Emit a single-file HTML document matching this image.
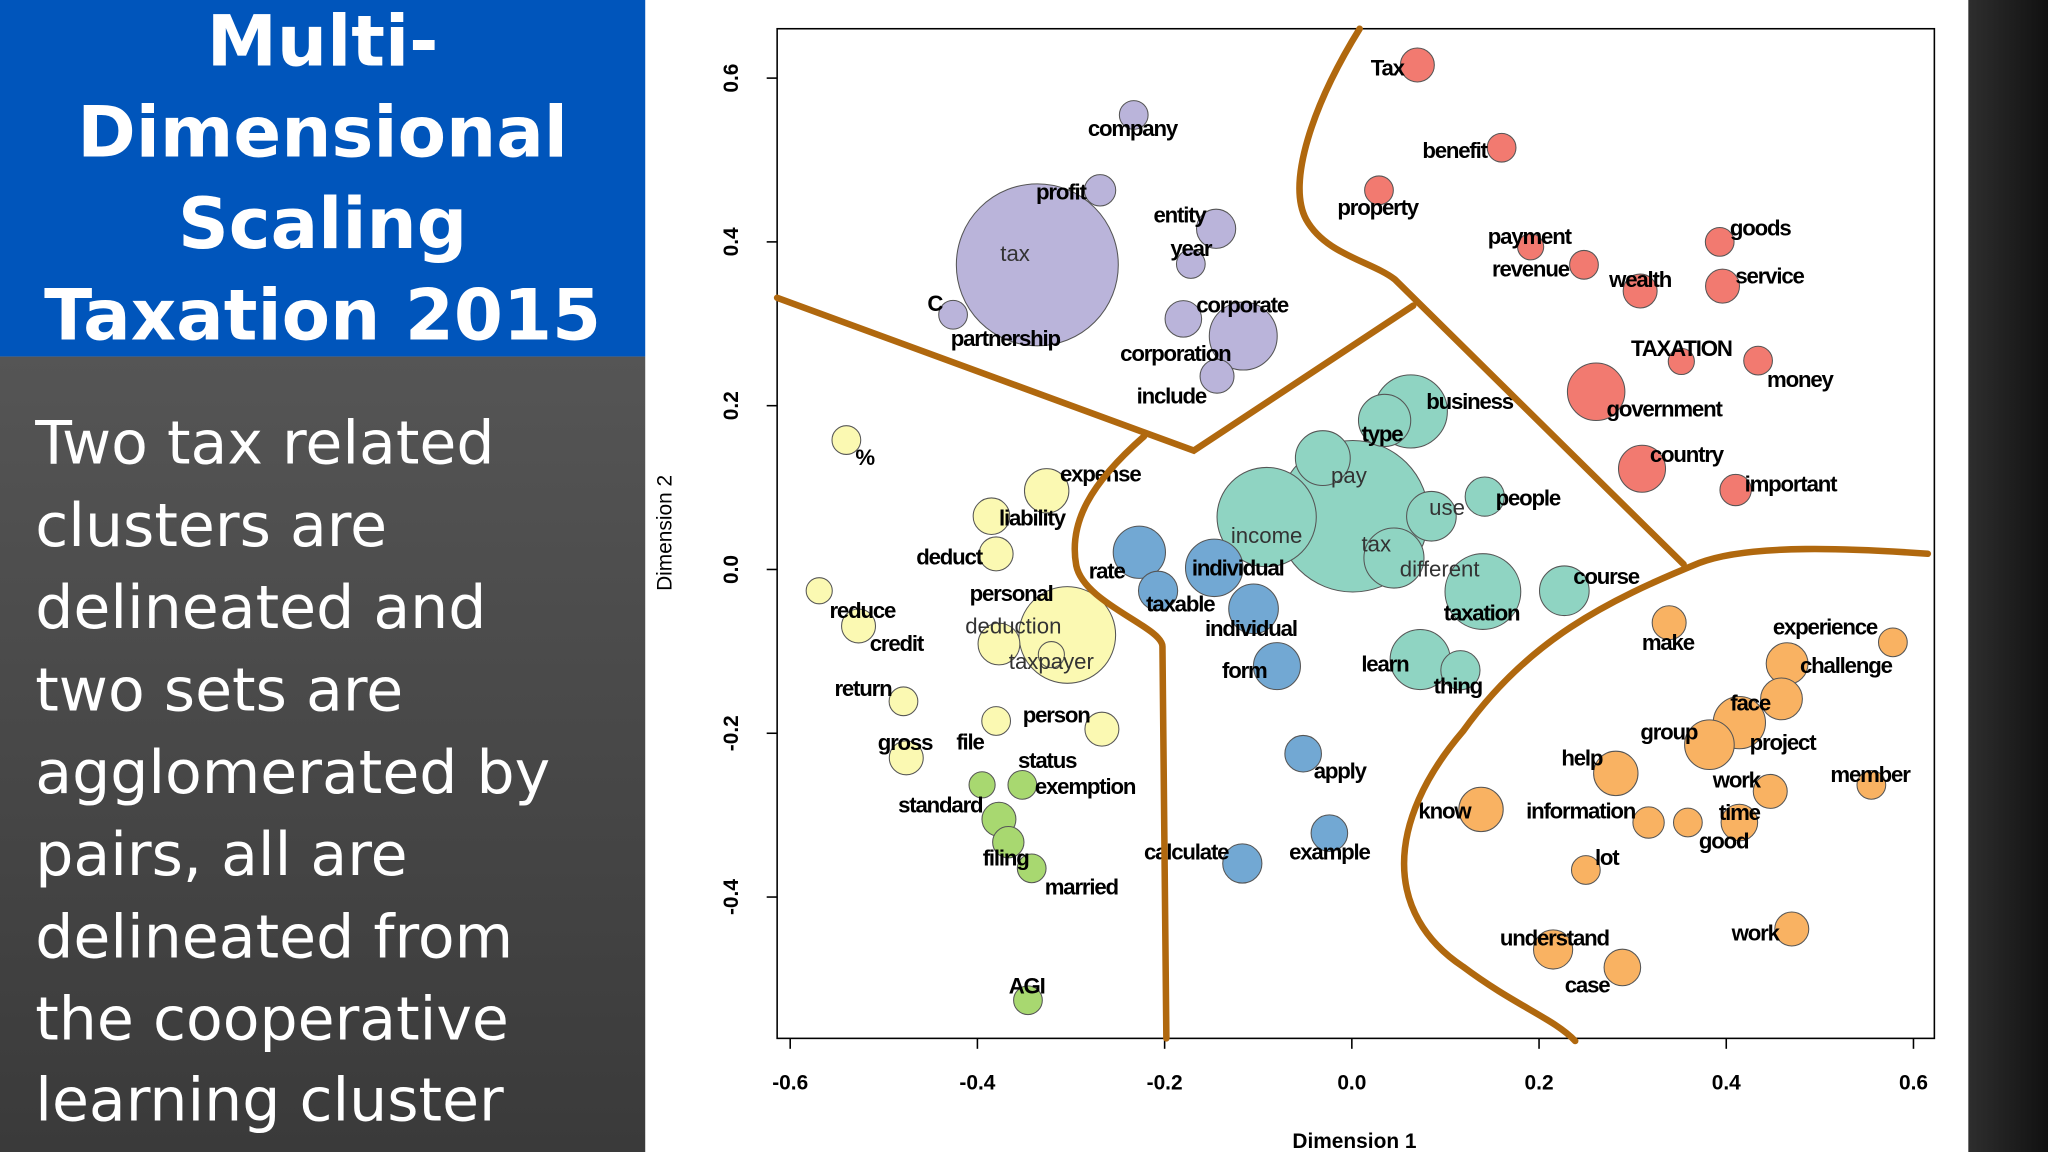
<!DOCTYPE html>
<html><head><meta charset="utf-8"><style>
html,body{margin:0;padding:0;background:#fff;overflow:hidden}
svg{display:block}
.lbl{font-family:"Liberation Sans",sans-serif;font-size:17px;font-weight:bold;letter-spacing:-0.9px;fill:#000}
.lbl.n{font-weight:normal;fill:#333;letter-spacing:0}
.tick{font-family:"Liberation Sans",sans-serif;font-size:16px;font-weight:bold;fill:#000}
.ttl{font-family:"DejaVu Sans","Liberation Sans",sans-serif;font-weight:bold;font-size:54px;fill:#fff}
.body{font-family:"DejaVu Sans","Liberation Sans",sans-serif;font-size:46px;fill:#fff}
</style></head><body>
<svg id="root" width="2048" height="1152" viewBox="0 0 1568 882" xmlns="http://www.w3.org/2000/svg">
<defs>
<linearGradient id="gp" x1="0" y1="0" x2="0" y2="1"><stop offset="0" stop-color="#555"/><stop offset="1" stop-color="#3a3a3a"/></linearGradient>
<linearGradient id="gr" x1="0" y1="0" x2="1" y2="0"><stop offset="0" stop-color="#2e2e2e"/><stop offset="1" stop-color="#111"/></linearGradient>
</defs>
<rect x="0" y="0" width="494" height="273" fill="#0055bb"/>
<rect x="0" y="273" width="494" height="609" fill="url(#gp)"/>
<rect x="1507" y="0" width="61" height="882" fill="url(#gr)"/>
<g text-anchor="middle">
<text class="ttl" x="247" y="50">Multi-</text>
<text class="ttl" x="247" y="120">Dimensional</text>
<text class="ttl" x="247" y="190">Scaling</text>
<text class="ttl" x="247" y="260">Taxation 2015</text>
</g>
<g>
<text class="body" x="27" y="355">Two tax related</text>
<text class="body" x="27" y="418">clusters are</text>
<text class="body" x="27" y="481">delineated and</text>
<text class="body" x="27" y="544">two sets are</text>
<text class="body" x="27" y="607">agglomerated by</text>
<text class="body" x="27" y="670">pairs, all are</text>
<text class="body" x="27" y="733">delineated from</text>
<text class="body" x="27" y="796">the cooperative</text>
<text class="body" x="27" y="858">learning cluster</text>
</g>
<rect x="595" y="22" width="886" height="773" fill="#fff" stroke="#000" stroke-width="1.2"/>
<g id="axes"></g>
<g id="points"></g>
<g id="curves" fill="none" stroke="#b0680e" stroke-width="5" stroke-linecap="round">
<path d="M595,228 L914,345 L1082,234"/>
<path d="M876,334 C835,370 818,400 824,433 C830,462 890,480 890,495 L893,795"/>
<path d="M1041,22 C1005,80 985,140 1000,168 C1015,195 1050,200 1068,214 L1289,432"/>
<path d="M1476,424 C1420,420 1340,416 1301,431 C1230,460 1170,490 1120,560 C1060,630 1060,700 1120,740 C1160,770 1190,780 1206,797"/>
</g>
<text class="tick" x="1037" y="879" text-anchor="middle">Dimension 1</text>
<text class="tick" transform="translate(514,408) rotate(-90)" text-anchor="middle" style="font-weight:normal">Dimension 2</text>
</svg>
<script>
const words=["company","profit","tax","entity","year","C","partnership","corporate","corporation","include",
"Tax","benefit","property","payment","revenue","wealth","goods","service","TAXATION","money","government","country","important",
"business","type","pay","income","tax","use","people","different","taxation","course","learn","thing",
"rate","taxable","individual","individual","form","apply","example","calculate",
"%","expense","liability","deduct","reduce","credit","personal","deduction","taxpayer","return","gross","file","person",
"standard","exemption","status","","filing","married","AGI",
"make","experience","challenge","face","group","project","help","work","member","know","information","","time","good","lot","understand","case","work"];
const dim1=[-0.233,-0.269,-0.336,-0.145,-0.172,-0.426,-0.426,-0.180,-0.116,-0.144,
0.070,0.160,0.029,0.191,0.248,0.308,0.393,0.396,0.352,0.434,0.261,0.310,0.410,
0.063,0.035,-0.031,-0.091,0.001,0.085,0.142,0.045,0.140,0.227,0.073,0.116,
-0.227,-0.207,-0.147,-0.105,-0.080,-0.052,-0.024,-0.117,
-0.540,-0.326,-0.385,-0.380,-0.569,-0.527,-0.304,-0.377,-0.321,-0.479,-0.476,-0.380,-0.267,
-0.395,-0.352,-0.352,-0.377,-0.367,-0.342,-0.346,
0.339,0.578,0.465,0.459,0.414,0.382,0.282,0.447,0.555,0.138,0.317,0.359,0.414,0.414,0.250,0.215,0.289,0.470];
const dim2=[0.555,0.463,0.372,0.416,0.373,0.311,0.311,0.306,0.285,0.236,
0.616,0.515,0.463,0.394,0.372,0.340,0.400,0.346,0.254,0.255,0.217,0.123,0.097,
0.193,0.182,0.136,0.064,0.065,0.065,0.089,0.014,-0.027,-0.026,-0.110,-0.123,
0.021,-0.026,0.002,-0.048,-0.118,-0.225,-0.322,-0.359,
0.158,0.096,0.065,0.019,-0.026,-0.069,-0.080,-0.091,-0.104,-0.161,-0.230,-0.185,-0.195,
-0.263,-0.263,-0.263,-0.305,-0.333,-0.365,-0.526,
-0.065,-0.089,-0.115,-0.158,-0.187,-0.214,-0.249,-0.271,-0.263,-0.293,-0.309,-0.309,-0.309,-0.309,-0.367,-0.464,-0.486,-0.439];
const sizes=[11,12,62,15,11,11,0,14,26,13,
13,11,11,10,11,13,11,13,10,11,22,18,12,
28,20,21,38,58,19,15,23,29,19,23,15,
20,15,22,19,18,14,14,15,
11,17,14,13,10,13,37,16,10,11,13,11,13,
10,11,0,13,12,11,11,
13,11,16,16,20,19,17,13,11,17,12,11,14,0,11,15,14,13];
const clusters=[0,0,0,0,0,0,0,0,0,0,
1,1,1,1,1,1,1,1,1,1,1,1,1,
2,2,2,2,2,2,2,2,2,2,2,2,
3,3,3,3,3,3,3,3,
4,4,4,4,4,4,4,4,4,4,4,4,4,
5,5,5,5,5,5,5,
6,6,6,6,6,6,6,6,6,6,6,6,6,6,6,6,6,6];
const xTicks=["-0.6","-0.4","-0.2","0.0","0.2","0.4","0.6"];
const yTicks=["-0.4","-0.2","0.0","0.2","0.4","0.6"];
// styling: cluster colours and label pixel offsets
const colors=["#bab4da","#f27a70","#8fd4c2","#72a8d3","#fbf9b2","#a8d870","#f9b262"];
const offX=[-1,-30,-17,-28,0,-14,40,45,-52,-35,-23,-36,-1,-1,-41,0,31,36,0,32,52,34,42,45,-2,20,0,18,12,33,35,-1,32,-27,-2,-25,17,18,-2,-25,28,0,-43,14,41,31,-36,33,29,-43,11,0,-31,-1,-20,-35,-32,48,19,0,-2,38,-1,-1,-52,45,-24,-54,56,-26,-26,-1,-28,-52,0,0,-12,16,1,-27,-28];
const offY=[10,1,-9,-11,-12,-9,18,-11,13,15,2,2,13,-8,3,-9,-11,-8,-10,14,13,-11,-5,-8,10,13,14,21,-7,1,8,16,-11,3,12,14,10,0,15,3,13,14,-9,13,-13,1,2,15,13,-32,-14,5,-10,-12,16,-11,15,1,-19,0,12,14,-11,15,-12,1,3,7,-2,-12,-9,-8,1,-9,0,-8,14,-10,-9,13,3];
const normalW=new Set([2,25,26,27,28,30,50,51]);
const X=v=>1035+v*716.67, Y=v=>436-v*627;
const NS="http://www.w3.org/2000/svg";
const axes=document.getElementById('axes'), pts=document.getElementById('points');
function mk(t,a){const e=document.createElementNS(NS,t);for(const k in a)e.setAttribute(k,a[k]);return e;}
xTicks.forEach(t=>{const x=X(parseFloat(t));
const l=mk('line',{x1:x,y1:795,x2:x,y2:803,stroke:'#000','stroke-width':1.2});


axes.appendChild(l);
const tx=mk('text',{x:x,y:834,'text-anchor':'middle',class:'tick'});tx.textContent=t;


axes.appendChild(tx);});
yTicks.forEach(t=>{const y=Y(parseFloat(t));
const l=mk('line',{x1:587,y1:y,x2:595,y2:y,stroke:'#000','stroke-width':1.2});


axes.appendChild(l);
const tx=mk('text',{transform:`translate(565,${y}) rotate(-90)`,'text-anchor':'middle',class:'tick'});tx.textContent=t;


axes.appendChild(tx);});
const order=words.map((w,i)=>i).sort((a,b)=>sizes[b]-sizes[a]);
order.forEach(i=>{if(sizes[i]<=0)return;
const c=mk('circle',{cx:X(dim1[i]),cy:Y(dim2[i]),r:sizes[i],fill:colors[clusters[i]],stroke:'#555','stroke-width':0.8});


pts.appendChild(c);});
words.forEach((w,i)=>{if(!w)return;
const t=mk('text',{x:X(dim1[i])+offX[i],y:Y(dim2[i])+offY[i]+6,'text-anchor':'middle',class:'lbl'+(normalW.has(i)?' n':'')});
t.textContent=w;


pts.appendChild(t);});
</script>
</body></html>
